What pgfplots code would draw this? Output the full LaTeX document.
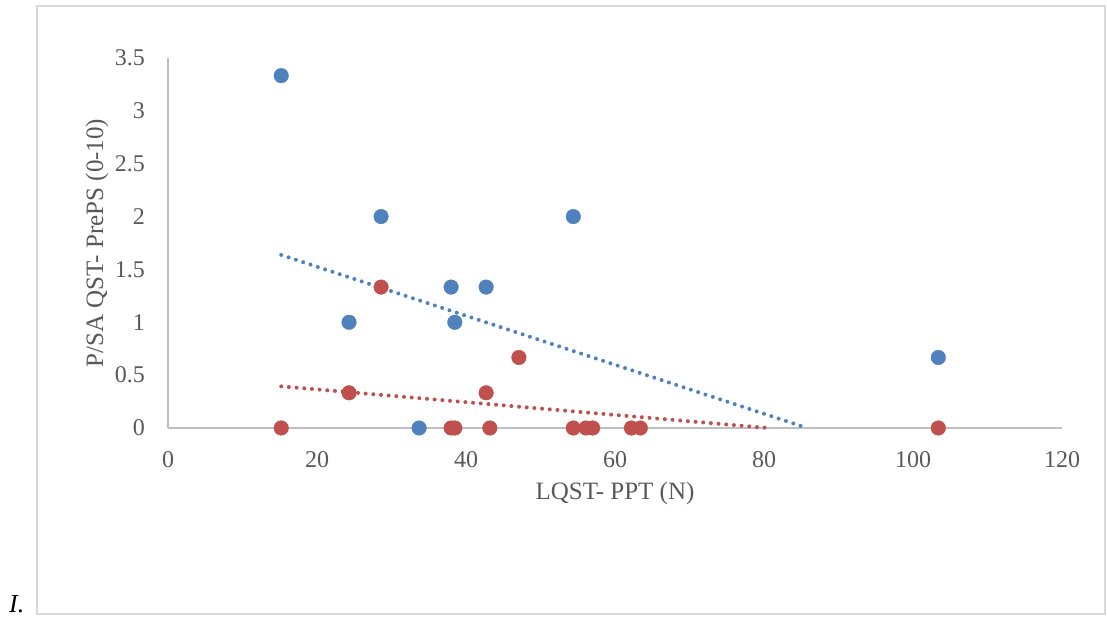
\documentclass[border=0pt]{standalone}
\usepackage{pgfplots}
\pgfplotsset{compat=1.18}
\usepackage{fontspec}
\setmainfont{Liberation Serif}
\definecolor{sblue}{HTML}{4F81BD}
\definecolor{sred}{HTML}{C0504D}
\definecolor{axgray}{HTML}{BFBFBF}
\definecolor{framegray}{HTML}{D9D9D9}
\definecolor{txtgray}{HTML}{595959}
\begin{document}
\begin{tikzpicture}[x=1pt,y=1pt]
\path (0,0) rectangle (1107,620);
\draw[framegray, line width=1.5pt] (37,6) rectangle (1105,614);
\node[font=\fontsize{26}{30}\selectfont\itshape, anchor=base west, inner sep=0pt] at (9,7) {I.};
\begin{axis}[
  at={(168pt,192pt)}, anchor=south west,
  width=894pt, height=370pt, scale only axis,
  xmin=0, xmax=120, ymin=0, ymax=3.5,
  axis x line*=bottom, axis y line*=left,
  axis line style={axgray, line width=1.8pt, -},
  major tick length=0pt,
  xtick={0,20,...,120},
  ytick={0,0.5,1,1.5,2,2.5,3,3.5},
  /pgf/number format/assume math mode=true,
  tick label style={font=\fontsize{24}{28}\selectfont, text=txtgray, inner sep=0pt},
  xticklabel style={anchor=north, yshift=-23pt},
  yticklabel style={anchor=east, xshift=-23pt},
  label style={font=\fontsize{25}{30}\selectfont, text=txtgray},
  xlabel={LQST- PPT (N)},
  ylabel={P/SA QST- PrePS (0-10)},
  xlabel style={at={(axis description cs:0.5,-0.1757)}, anchor=center, inner sep=0pt},
  ylabel style={at={(axis description cs:-0.0794,0.5)}, anchor=center, inner sep=0pt},
  clip=false,
]
\addplot[only marks, mark=*, mark size=7.3pt, mark options={fill=sblue, draw=sblue}] coordinates {
 (15.2,3.333) (28.6,2) (24.3,1) (38.0,1.333) (38.5,1) (42.7,1.333) (33.7,0) (54.4,2) (103.4,0.667)
};
\addplot[only marks, mark=*, mark size=7.3pt, mark options={fill=sred, draw=sred}] coordinates {
 (15.2,0) (28.6,1.333) (24.3,0.333) (38.0,0) (38.5,0) (42.7,0.333) (43.2,0) (47.1,0.667)
 (54.4,0) (56.1,0) (57.0,0) (62.2,0) (63.4,0) (103.4,0)
};
\addplot[sblue, line width=4pt, line cap=round, dash pattern=on 0pt off 7.7pt] coordinates {(15.2,1.637) (85.8,0)};
\addplot[sred, line width=4pt, line cap=round, dash pattern=on 0pt off 7.7pt] coordinates {(15.2,0.394) (80.5,0)};
\end{axis}
\end{tikzpicture}
\end{document}
